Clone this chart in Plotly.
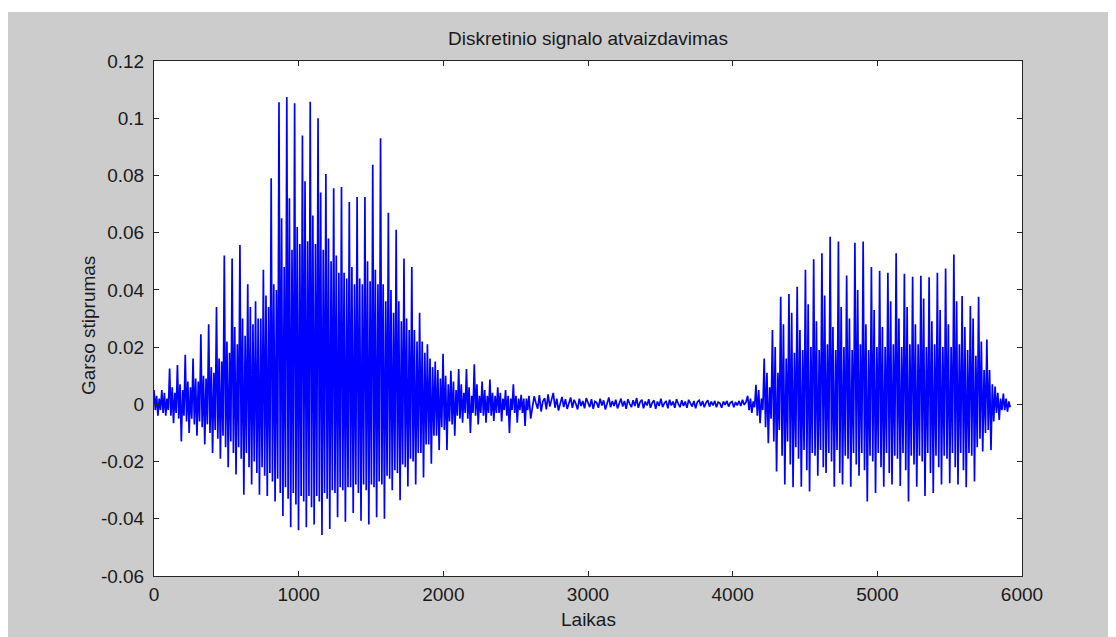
import plotly.graph_objects as go

# ---------------- data ----------------
# Voiced segment 1: per pitch period -> spike peak, inner low, inner high, deep trough,
# and the dense core (top / bottom)
v1_start = 0
v1_period = 54
v1_peak = [0.005, 0.005, 0.0125, 0.0137, 0.0173, 0.016, 0.0245, 0.028, 0.034, 0.052,
           0.051, 0.0557, 0.042, 0.036, 0.047, 0.079, 0.1056, 0.1074, 0.1052, 0.094,
           0.1058, 0.100, 0.0805, 0.0755, 0.076, 0.0707, 0.0725, 0.0725, 0.0837, 0.093,
           0.067, 0.061, 0.051, 0.048, 0.032, 0.021, 0.015, 0.0177, 0.0117, 0.0123,
           0.0123, 0.014, 0.008, 0.0087, 0.006, 0.005, 0.007, 0.0033]
v1_lo = [-0.002, -0.003, -0.004, -0.005, -0.006, -0.007, -0.008, -0.010, -0.012, -0.015,
         -0.017, -0.019, -0.022, -0.024, -0.025, -0.027, -0.031, -0.033, -0.035, -0.034,
         -0.036, -0.034, -0.033, -0.031, -0.030, -0.029, -0.031, -0.030, -0.029, -0.028,
         -0.026, -0.024, -0.022, -0.020, -0.017, -0.014, -0.011, -0.009, -0.007, -0.005,
         -0.005, -0.004, -0.004, -0.004, -0.003, -0.004, -0.003, -0.003]
v1_hi = [0.003, 0.004, 0.006, 0.007, 0.008, 0.009, 0.010, 0.013, 0.016, 0.022,
         0.027, 0.030, 0.034, 0.030, 0.038, 0.042, 0.065, 0.072, 0.062, 0.078,
         0.066, 0.074, 0.058, 0.052, 0.046, 0.048, 0.044, 0.050, 0.047, 0.042,
         0.040, 0.036, 0.030, 0.026, 0.022, 0.016, 0.012, 0.010, 0.008, 0.007,
         0.006, 0.007, 0.005, 0.004, 0.004, 0.003, 0.003, 0.002]
v1_trough = [-0.004, -0.004, -0.0066, -0.013, -0.010, -0.011, -0.014, -0.017, -0.019, -0.022,
             -0.0245, -0.0316, -0.028, -0.0316, -0.032, -0.034, -0.039, -0.043, -0.044, -0.043,
             -0.042, -0.0457, -0.0436, -0.0395, -0.041, -0.038, -0.0407, -0.042, -0.0395, -0.040,
             -0.030, -0.0335, -0.0287, -0.028, -0.0256, -0.0208, -0.016, -0.016, -0.011, -0.0064,
             -0.010, -0.007, -0.0064, -0.0058, -0.006, -0.010, -0.0064, -0.0076]
v1_core_top = [0.002, 0.002, 0.004, 0.005, 0.006, 0.008, 0.009, 0.011, 0.015, 0.018,
               0.021, 0.024, 0.028, 0.030, 0.034, 0.040, 0.048, 0.054, 0.056, 0.057,
               0.056, 0.054, 0.050, 0.046, 0.044, 0.042, 0.042, 0.043, 0.042, 0.036,
               0.032, 0.029, 0.026, 0.022, 0.018, 0.013, 0.009, 0.007, 0.005, 0.004,
               0.003, 0.003, 0.003, 0.003, 0.002, 0.002, 0.002, 0.002]
v1_core_bot = [-0.002, -0.002, -0.003, -0.004, -0.005, -0.006, -0.007, -0.009, -0.011, -0.013,
               -0.015, -0.017, -0.020, -0.022, -0.024, -0.026, -0.029, -0.031, -0.032, -0.032,
               -0.032, -0.031, -0.030, -0.029, -0.029, -0.028, -0.028, -0.028, -0.027, -0.025,
               -0.023, -0.021, -0.019, -0.017, -0.014, -0.011, -0.008, -0.006, -0.004, -0.003,
               -0.003, -0.003, -0.003, -0.003, -0.002, -0.002, -0.002, -0.002]

# Quiet (pause) segment, uniform samples
quiet_start = 2592
quiet_step = 12
quiet = [0.0030, -0.0050, -0.0010, 0.0028, 0.0005, -0.0015, 0.0032, -0.0025, 0.0010, 0.0022,
         -0.0018, 0.0035, -0.0008, 0.0015, 0.0040, -0.0012, 0.0020, -0.0022, 0.0008, 0.0026,
         -0.0010, 0.0018, -0.0016, 0.0004, 0.0024, -0.0012, 0.0016, 0.0002, -0.0018, 0.0020,
         -0.0006, 0.0012, -0.0014, 0.0022, 0.0004, -0.0010, 0.0018, -0.0016, 0.0010, 0.0006,
         -0.0012, 0.0020, -0.0004, 0.0014, -0.0018, 0.0008, 0.0024, -0.0010, 0.0012, -0.0006,
         0.0016, -0.0014, 0.0006, 0.0020, -0.0008, 0.0012, -0.0016, 0.0018, 0.0002, -0.0010,
         0.0014, -0.0006, 0.0022, -0.0012, 0.0008, 0.0016, -0.0014, 0.0010, -0.0004, 0.0018,
         -0.0012, 0.0006, 0.0014, -0.0016, 0.0010, -0.0006, 0.0020, -0.0010, 0.0004, 0.0012,
         -0.0014, 0.0016, -0.0004, 0.0010, -0.0012, 0.0018, 0.0002, -0.0010, 0.0014, -0.0006,
         0.0010, -0.0012, 0.0016, 0.0004, -0.0008, 0.0012, -0.0014, 0.0008, 0.0014, -0.0006,
         0.0012, -0.0010, 0.0006, 0.0014, -0.0008, 0.0010, -0.0004, 0.0012, -0.0010, 0.0008,
         0.0004, -0.0012, 0.0010, -0.0002, 0.0012, -0.0008, 0.0006, 0.0010, -0.0010, 0.0008,
         -0.0004, 0.0012, -0.0006, 0.0016, -0.0002, 0.0008]

# Voiced segment 2
v2_start = 4104
v2_period = 57
v2_peak = [0.003, 0.0068, 0.016, 0.026, 0.0376, 0.0386, 0.0411, 0.047, 0.0507, 0.0528,
           0.0586, 0.0569, 0.045, 0.0565, 0.0569, 0.048, 0.0467, 0.046, 0.0528, 0.0456,
           0.0446, 0.0449, 0.0444, 0.046, 0.0475, 0.0524, 0.0379, 0.0344, 0.0376, 0.0227,
           0.0062, 0.0038]
v2_lo = [-0.002, -0.004, -0.008, -0.013, -0.018, -0.021, -0.019, -0.023, -0.018, -0.022,
         -0.020, -0.024, -0.019, -0.021, -0.023, -0.020, -0.022, -0.024, -0.019, -0.023,
         -0.021, -0.020, -0.024, -0.022, -0.019, -0.022, -0.023, -0.018, -0.012, -0.009,
         -0.003, -0.002]
v2_hi = [0.002, 0.005, 0.011, 0.020, 0.028, 0.032, 0.026, 0.035, 0.029, 0.038,
         0.027, 0.034, 0.030, 0.040, 0.028, 0.033, 0.027, 0.036, 0.030, 0.034,
         0.028, 0.037, 0.029, 0.033, 0.028, 0.036, 0.027, 0.030, 0.022, 0.012,
         0.004, 0.002]
v2_trough = [-0.003, -0.0066, -0.0136, -0.0235, -0.028, -0.029, -0.0288, -0.0305, -0.025, -0.024,
             -0.0288, -0.028, -0.0288, -0.025, -0.034, -0.031, -0.0288, -0.028, -0.0285, -0.034,
             -0.0288, -0.032, -0.031, -0.028, -0.0276, -0.028, -0.029, -0.027, -0.0165, -0.016,
             -0.0055, -0.0026]
v2_core_top = [0.001, 0.002, 0.006, 0.011, 0.016, 0.018, 0.019, 0.020, 0.019, 0.021,
               0.019, 0.020, 0.019, 0.021, 0.019, 0.020, 0.020, 0.021, 0.020, 0.021,
               0.021, 0.020, 0.021, 0.020, 0.020, 0.021, 0.019, 0.017, 0.012, 0.007,
               0.002, 0.001]
v2_core_bot = [-0.001, -0.002, -0.005, -0.009, -0.013, -0.015, -0.016, -0.017, -0.016, -0.017,
               -0.016, -0.018, -0.017, -0.017, -0.018, -0.017, -0.017, -0.018, -0.017, -0.018,
               -0.018, -0.017, -0.018, -0.018, -0.017, -0.017, -0.017, -0.015, -0.010, -0.006,
               -0.002, -0.001]

x_ticks = [0, 1000, 2000, 3000, 4000, 5000, 6000]
y_ticks = [-0.06, -0.04, -0.02, 0, 0.02, 0.04, 0.06, 0.08, 0.1, 0.12]
y_tick_text = ["-0.06", "-0.04", "-0.02", "0", "0.02", "0.04", "0.06", "0.08", "0.1", "0.12"]

# ---------------- assemble the sample sequence ----------------
xs, ys = [], []


def add_voiced(start, period, pk, lo, hi, tr, ct, cb):
    q = period / 6.0
    for i, vals in enumerate(zip(pk, lo, hi, tr, ct, cb)):
        base = start + i * period
        for k, v in enumerate(vals):
            xs.append(base + k * q)
            ys.append(v)


add_voiced(v1_start, v1_period, v1_peak, v1_lo, v1_hi, v1_trough, v1_core_top, v1_core_bot)
for j, v in enumerate(quiet):
    xs.append(quiet_start + j * quiet_step)
    ys.append(v)
add_voiced(v2_start, v2_period, v2_peak, v2_lo, v2_hi, v2_trough, v2_core_top, v2_core_bot)

FONT = "Liberation Sans, Arial, sans-serif"
OFF = 8                      # page body margin
W, H = 1116 - OFF, 637 - OFF
ML, MR, MT, MB = 154 - OFF, W - (1022 - OFF), 61 - OFF, H - (576 - OFF)
pw, ph = W - ML - MR, H - MT - MB


def px_x(p):                 # page pixel -> paper x
    return (p - OFF - ML) / pw


def px_y(p):                 # page pixel -> paper y
    return (H - MB - (p - OFF)) / ph


BLUE = "#0000ff"
fig = go.Figure()
fig.add_trace(go.Scatter(x=xs, y=ys, mode="lines",
                         line=dict(color=BLUE, width=1.7),
                         hoverinfo="skip", showlegend=False))

axis_common = dict(showline=True, linecolor="#262626", linewidth=1, mirror="allticks",
                   ticks="inside", ticklen=5, tickcolor="#262626", tickwidth=1,
                   showgrid=False, zeroline=False,
                   tickfont=dict(family=FONT, size=19, color="#1a1a1a"))

fig.update_xaxes(range=[0, 6000], tickvals=x_ticks, ticklabelstandoff=1, **axis_common)
fig.update_yaxes(range=[-0.06, 0.12], tickvals=y_ticks, ticktext=y_tick_text,
                 ticklabelstandoff=5, **axis_common)

fig.update_layout(
    width=W, height=H,
    margin=dict(l=ML, r=MR, t=MT, b=MB),
    paper_bgcolor="#cccccc", plot_bgcolor="#ffffff",
    title=dict(text="Diskretinio signalo atvaizdavimas", x=0.5, xref="paper",
               y=1 - (38 - OFF) / H, yref="container", yanchor="middle", xanchor="center",
               font=dict(family=FONT, size=19, color="#1a1a1a")),
    annotations=[
        dict(text="Laikas", xref="paper", yref="paper", x=0.5, y=px_y(619),
             xanchor="center", yanchor="middle", showarrow=False,
             font=dict(family=FONT, size=19, color="#1a1a1a")),
        dict(text="Garso stiprumas", xref="paper", yref="paper", x=px_x(88), y=px_y(326),
             xanchor="center", yanchor="middle", showarrow=False, textangle=-90,
             font=dict(family=FONT, size=19, color="#1a1a1a")),
    ],
    shapes=[
        dict(type="rect", xref="paper", yref="paper", x0=px_x(0), x1=px_x(1120),
             y0=px_y(12), y1=px_y(0), fillcolor="#ffffff", line=dict(width=0), layer="above"),
    ],
)

fig.write_html("out.html")
